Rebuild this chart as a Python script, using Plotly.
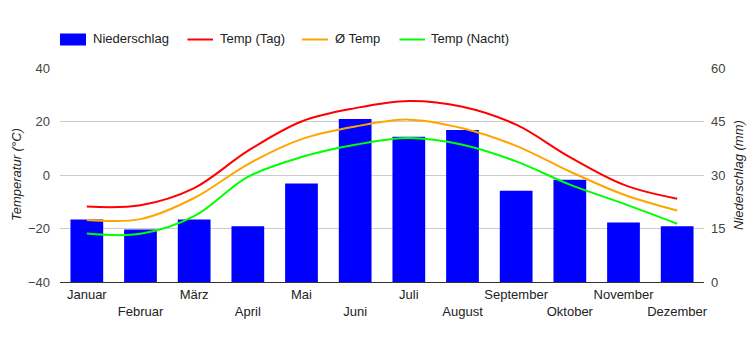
import plotly.graph_objects as go

months = ["Januar", "Februar", "März", "April", "Mai", "Juni", "Juli",
          "August", "September", "Oktober", "November", "Dezember"]
niederschlag = [17.5, 14.7, 17.5, 15.6, 27.6, 45.7, 40.7, 42.6, 25.6, 28.7, 16.7, 15.6]
temp_tag = [-11.8, -11.3, -4.9, 9.0, 20.0, 25.0, 27.7, 25.5, 18.8, 6.7, -3.6, -8.9]
temp_avg = [-16.8, -16.5, -8.6, 4.0, 13.4, 18.1, 20.7, 17.5, 10.9, 1.3, -7.3, -13.3]
temp_nacht = [-21.9, -22.0, -15.4, -0.7, 6.7, 11.3, 13.8, 11.3, 5.1, -3.6, -10.7, -18.2]

tick_text = [m if i % 2 == 0 else "<br>" + m for i, m in enumerate(months)]

W, H = 750, 350
ML, MR, MT, MB = 60, 46, 68, 68
PW, PH = W - ML - MR, H - MT - MB


def px(x):
    return (x - ML) / PW


def py(y):
    return (H - MB - y) / PH


FONT = "Liberation Sans, Arial, sans-serif"

fig = go.Figure()
fig.add_trace(go.Bar(x=months, y=niederschlag, name="Niederschlag",
                     marker=dict(color="#0000ff", line=dict(width=0)), yaxis="y"))
fig.add_trace(go.Scatter(x=months, y=temp_tag, name="Temp (Tag)", mode="lines",
                         line=dict(color="#ff0000", width=2, shape="spline"), yaxis="y2"))
fig.add_trace(go.Scatter(x=months, y=temp_avg, name="Ø Temp", mode="lines",
                         line=dict(color="#ffa500", width=2, shape="spline"), yaxis="y2"))
fig.add_trace(go.Scatter(x=months, y=temp_nacht, name="Temp (Nacht)", mode="lines",
                         line=dict(color="#00ff00", width=2, shape="spline"), yaxis="y2"))

shapes = []
annotations = []
# custom legend
legend_items = [
    ("rect", "#0000ff", 60, 86, "Niederschlag", 91),
    ("line", "#ff0000", 187.5, 213, "Temp (Tag)", 218),
    ("line", "#ffa500", 302, 328, "Ø Temp", 332.5),
    ("line", "#00ff00", 399.5, 425, "Temp (Nacht)", 429),
]
for kind, col, x0, x1, label, tx in legend_items:
    if kind == "rect":
        shapes.append(dict(type="rect", xref="paper", yref="paper",
                           x0=px(x0), x1=px(x1), y0=py(45.5), y1=py(33.5),
                           fillcolor=col, line=dict(width=0)))
    else:
        shapes.append(dict(type="line", xref="paper", yref="paper",
                           x0=px(x0), x1=px(x1), y0=py(39.5), y1=py(39.5),
                           line=dict(color=col, width=2)))
    annotations.append(dict(x=px(tx), y=py(38.5), xref="paper", yref="paper",
                            text=label, showarrow=False, xanchor="left", yanchor="middle",
                            font=dict(family=FONT, size=13, color="#222222")))

annotations.append(dict(x=px(16), y=0.5, xref="paper", yref="paper",
                        text="<i>Temperatur (°C)</i>", textangle=-90, showarrow=False,
                        xanchor="center", yanchor="middle",
                        font=dict(family=FONT, size=13, color="#222222")))
annotations.append(dict(x=px(738), y=0.5, xref="paper", yref="paper",
                        text="<i>Niederschlag (mm)</i>", textangle=-90, showarrow=False,
                        xanchor="center", yanchor="middle",
                        font=dict(family=FONT, size=13, color="#222222")))

fig.update_layout(
    width=W, height=H,
    margin=dict(l=ML, r=MR, t=MT, b=MB, pad=0, autoexpand=False),
    paper_bgcolor="white", plot_bgcolor="white",
    showlegend=False,
    bargap=0.39,
    font=dict(family=FONT, size=13, color="#444444"),
    xaxis=dict(tickmode="array", tickvals=months, ticktext=tick_text, tickangle=0,
               automargin=False,
               showgrid=False, showline=True, linecolor="#333333", linewidth=1,
               ticks="", tickfont=dict(color="#222222", size=13), fixedrange=True),
    yaxis=dict(side="right", range=[0, 60], tickvals=[0, 15, 30, 45, 60], automargin=False,
               showgrid=True, gridcolor="#cccccc", gridwidth=1, zeroline=False,
               ticks="", ticklabelstandoff=6, tickfont=dict(color="#444444", size=13)),
    yaxis2=dict(side="left", overlaying="y", range=[-40, 40], automargin=False,
                tickvals=[-40, -20, 0, 20, 40], showgrid=False, zeroline=False,
                ticks="", ticklabelstandoff=9, tickfont=dict(color="#444444", size=13)),
    shapes=shapes,
    annotations=annotations,
)

fig.write_html("out.html")
